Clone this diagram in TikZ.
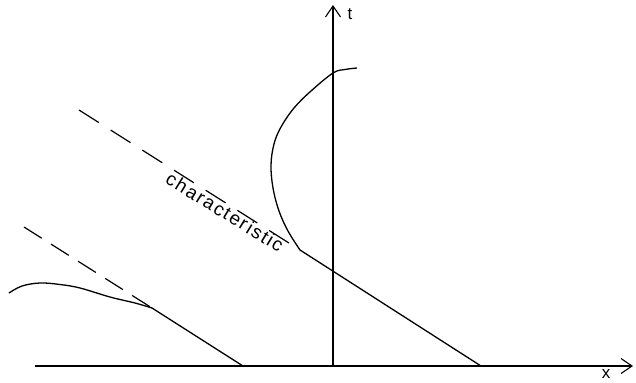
\documentclass[tikz,border=0pt]{standalone}
\usepackage{fontspec}
\setmainfont{Liberation Sans}
\usetikzlibrary{arrows.meta}

\begin{document}
\begin{tikzpicture}[x=1bp,y=-1bp,
  point/.style={coordinate},
  axis/.style={line width=1.1bp, -{Straight Barb[length=11bp,width=15bp,line width=1.1bp]}},
  curve/.style={line width=1.3bp, line join=round},
  charline/.style={line width=1.2bp, dash pattern=on 23.5bp off 14bp},
  lbl/.style={font=\fontsize{17}{17}\selectfont}]
\useasboundingbox (0,0) rectangle (636,382);
\node[point] (xs) at (35,366)  {};
\node[point] (xe) at (633,366) {};
\node[point] (o)  at (333,366) {};
\node[point] (te) at (333,5)   {};
\node[point] (a0) at (79,110)  {};
\node[point] (a1) at (300,250) {};
\node[point] (a2) at (481,366) {};
\node[point] (b0) at (24,227)  {};
\node[point] (b1) at (152,308) {};
\node[point] (b2) at (243,366) {};
\node[lbl] (tl) at (350,14) {t};
\node[lbl] (xl) at (606,374) {x};
\node[lbl, rotate=-31.5, font=\fontsize{19}{19}\selectfont] (cl) at (225,212)
  {\addfontfeature{LetterSpace=9}characteristic};
\draw[axis] (xs) -- (xe);
\draw[axis] (o) -- (te);
\draw[charline] (a0) -- (a1);
\draw[charline, dash pattern=on 21bp off 11bp] (b0) -- (b1);
\draw[curve] plot[smooth, tension=0.6] coordinates {(357,68) (345,69.5) (333,73) (311,91) (294,108) (281,127) (274,144) (271,165) (273,188) (279,211) (288,231) (300,250)};
\draw[curve] (a1) -- (a2);
\draw[curve] plot[smooth, tension=0.6] coordinates {(9,293) (22,286) (40,283) (60,284.5) (80,288) (110,297) (135,303) (152,308)};
\draw[curve] (b1) -- (b2);
\end{tikzpicture}
\end{document}
